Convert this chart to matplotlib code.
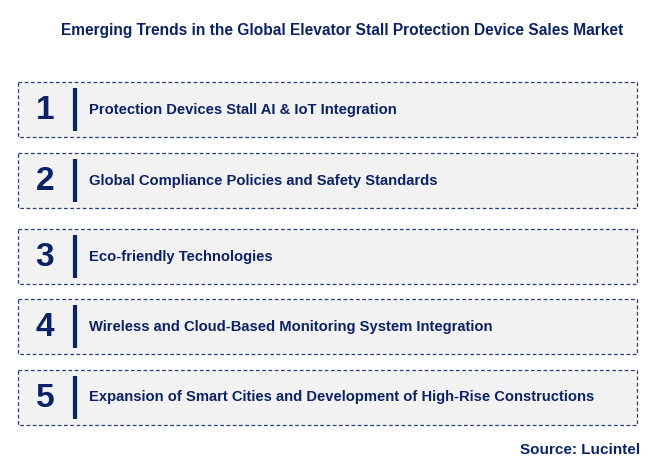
import matplotlib.pyplot as plt
from matplotlib.patches import Rectangle

W, H = 666, 474
NAVY = '#0b2265'

title = 'Emerging Trends in the Global Elevator Stall Protection Device Sales Market'
numbers = ['1', '2', '3', '4', '5']
trends = [
    'Protection Devices Stall AI & IoT Integration',
    'Global Compliance Policies and Safety Standards',
    'Eco-friendly Technologies',
    'Wireless and Cloud-Based Monitoring System Integration',
    'Expansion of Smart Cities and Development of High-Rise Constructions',
]
box_tops = [82, 153, 229, 299, 370]
box_h = 55

fig = plt.figure(figsize=(W / 100, H / 100), dpi=100)
ax = fig.add_axes([0, 0, 1, 1])
ax.set_xlim(0, W)
ax.set_ylim(H, 0)
ax.axis('off')

ax.text(342, 30, title, ha='center', va='center', fontsize=11.2, fontweight='bold',
        color=NAVY, family='Liberation Sans')

for num, txt, top in zip(numbers, trends, box_tops):
    ax.add_patch(Rectangle((18, top), 619, box_h, facecolor='#f2f2f2',
                           edgecolor='#2a3f7a', linestyle=(0, (3, 2)), linewidth=0.9))
    cy = top + box_h / 2
    ax.text(45, cy + 1, num, ha='center', va='center', fontsize=24,
            fontweight='bold', color=NAVY, family='Liberation Sans')
    ax.plot([75, 75], [top + 6, top + box_h - 6], color=NAVY, linewidth=3,
            solid_capstyle='butt')
    ax.text(89, cy, txt, ha='left', va='center', fontsize=10.6,
            fontweight='bold', color=NAVY, family='Liberation Sans')

ax.text(640, 450, 'Source: Lucintel', ha='right', va='center', fontsize=11,
        fontweight='bold', color=NAVY, family='Liberation Sans')

fig.savefig('out.png', dpi=100)
